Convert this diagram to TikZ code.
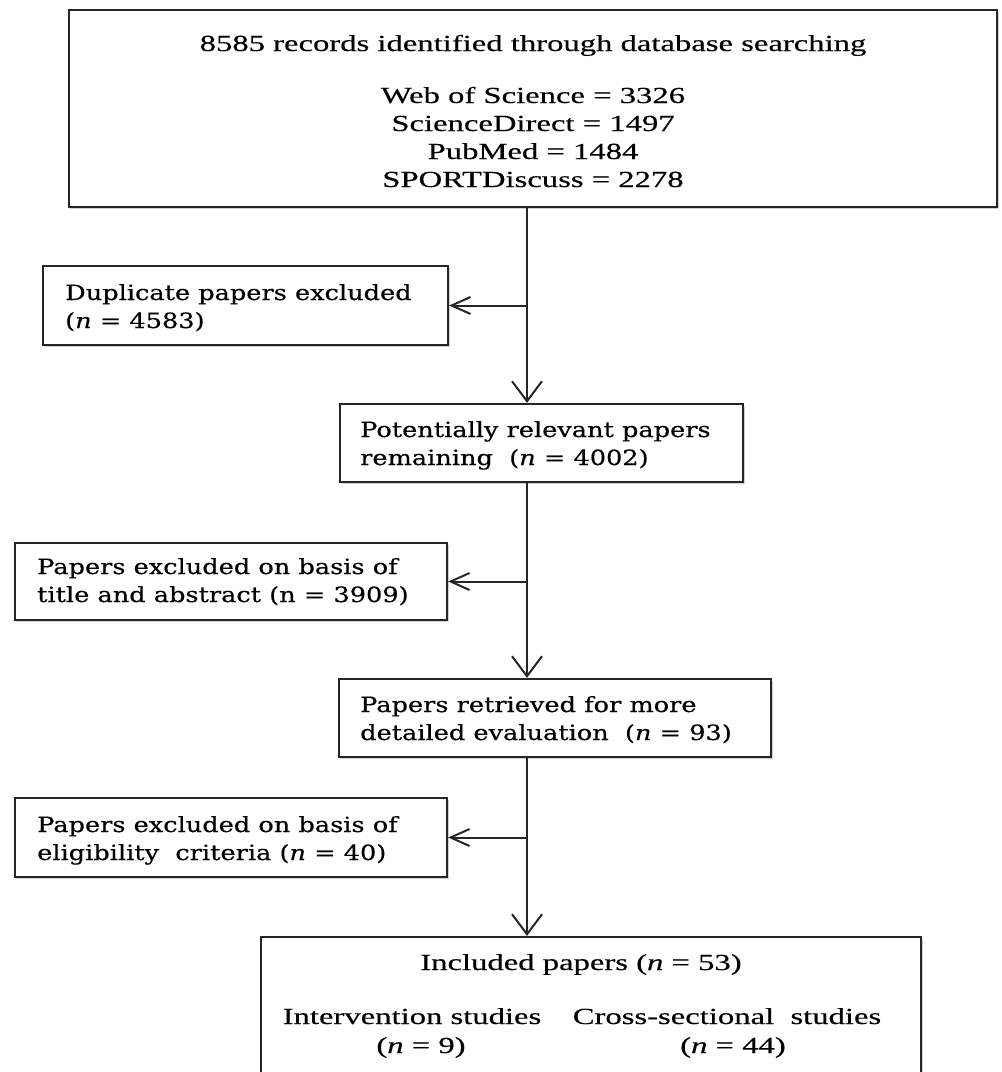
\documentclass[tikz,border=0pt]{standalone}
\usepackage{fontspec}
\setmainfont{Liberation Serif}[FakeStretch=1.42, FakeBold=0.4]
\newfontfamily\boxfont{DejaVu Serif}[FakeStretch=1.22, FakeBold=0.4]
\usetikzlibrary{arrows.meta,shadows}

\tikzset{
  panel/.style={draw=black!85, line width=2.2bp, fill=white, inner sep=0pt,
    drop shadow={shadow xshift=1.5bp, shadow yshift=-2bp, opacity=0.3, fill=black!60}},
  flow/.style={draw=black!85, line width=2bp},
  down/.style={flow, -{Straight Barb[length=20bp, width=30bp, line width=2bp]}},
  side/.style={flow, -{Straight Barb[length=19bp, width=17bp, line width=2bp]}},
  times/.style={inner sep=0pt, anchor=base, font=\fontsize{23bp}{28bp}\selectfont},
  wide/.style={inner sep=0pt, anchor=base west, font=\boxfont\fontsize{21bp}{28bp}\selectfont},
}

\begin{document}
\begin{tikzpicture}[x=1bp, y=-1bp]
  \useasboundingbox (0,0) rectangle (1002,1072);
  % boxes
  \node[panel, minimum width=928bp, minimum height=197bp] (records) at (533,108.5) {};
  \node[panel, minimum width=405bp, minimum height=79bp] (dup) at (245.5,305.5) {};
  \node[panel, minimum width=403bp, minimum height=78bp] (potential) at (541.5,443) {};
  \node[panel, minimum width=432bp, minimum height=77bp] (abstract) at (231,581.5) {};
  \node[panel, minimum width=432bp, minimum height=78bp] (retrieved) at (555,718) {};
  \node[panel, minimum width=432bp, minimum height=79bp] (eligible) at (231,837.5) {};
  \node[panel, minimum width=660bp, minimum height=163bp] (included) at (591,1018.5) {};
  % texts
  \node[times] (recordsT) at (533,51) {8585 records identified through database searching};
  \node[times] (wos) at (533,103) {Web of Science = 3326};
  \node[times] (sd) at (533,131) {ScienceDirect = 1497};
  \node[times] (pm) at (533,159) {PubMed = 1484};
  \node[times] (sport) at (533,187) {SPORTDiscuss = 2278};
  \node[wide] (dupA) at (65,300) {Duplicate papers excluded};
  \node[wide] (dupB) at (65,328) {(\textit{n} = 4583)};
  \node[wide] (potA) at (360,437) {Potentially relevant papers};
  \node[wide] (potB) at (360,465) {remaining\ \ (\textit{n} = 4002)};
  \node[wide] (absA) at (37,574) {Papers excluded on basis of};
  \node[wide] (absB) at (37,602) {title and abstract (n = 3909)};
  \node[wide] (retA) at (360,712) {Papers retrieved for more};
  \node[wide] (retB) at (360,740) {detailed evaluation\ \ (\textit{n} = 93)};
  \node[wide] (eliA) at (37,832) {Papers excluded on basis of};
  \node[wide] (eliB) at (37,860) {eligibility\ \ criteria (\textit{n} = 40)};
  \node[times] (incT) at (581,970) {Included papers (\textit{n} = 53)};
  \node[times] (intA) at (412,1024) {Intervention studies};
  \node[times] (intB) at (421,1053) {(\textit{n} = 9)};
  \node[times] (crossA) at (727,1024) {Cross-sectional\ \ studies};
  \node[times] (crossB) at (733,1053) {(\textit{n} = 44)};
  % connectors
  \coordinate (spine) at (527,0);
  \draw[down] (records.south -| spine) -- (potential.north -| spine);
  \draw[down] (potential.south -| spine) -- (retrieved.north -| spine);
  \draw[down] (retrieved.south -| spine) -- (included.north -| spine);
  \draw[side] (spine |- dup.east) -- (dup.east);
  \draw[side] (spine |- abstract.east) -- (abstract.east);
  \draw[side] (spine |- eligible.east) -- (eligible.east);
\end{tikzpicture}
\end{document}
